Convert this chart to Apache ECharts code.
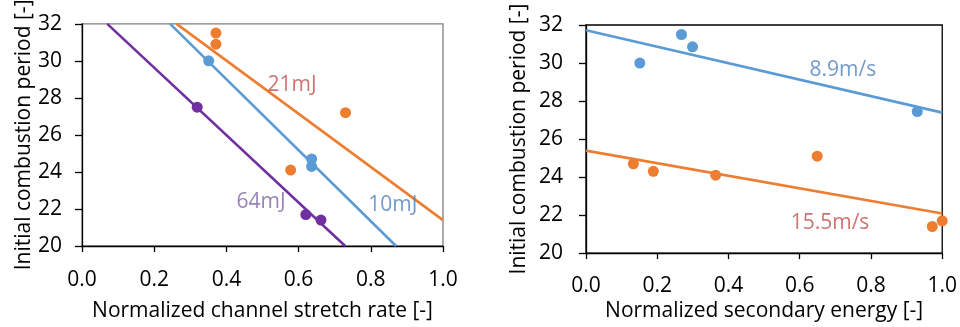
<!DOCTYPE html>
<html>
<head>
<meta charset="utf-8">
<script src="https://cdn.jsdelivr.net/npm/echarts@6/dist/echarts.min.js"></script>
<style>
  html, body { margin: 0; padding: 0; background: #fff; }
  #chart { width: 960px; height: 327px; }
</style>
</head>
<body>
<div id="chart"></div>
<script>
// Left panel: initial combustion period vs normalized channel stretch rate
const stretch21 = [[0.371, 31.5], [0.371, 30.9], [0.578, 24.1], [0.730, 27.2]];
const stretch10 = [[0.351, 30.0], [0.636, 24.7], [0.636, 24.3]];
const stretch64 = [[0.319, 27.5], [0.620, 21.7], [0.662, 21.4]];
const fit21 = [[0.262, 32], [1.0, 21.4]];
const fit10 = [[0.244, 32], [0.870, 20]];
const fit64 = [[0.070, 32], [0.729, 20]];

// Right panel: initial combustion period vs normalized secondary energy
const energy89 = [[0.151, 30.0], [0.268, 31.5], [0.299, 30.85], [0.930, 27.45]];
const energy155 = [[0.133, 24.7], [0.189, 24.3], [0.364, 24.1], [0.649, 25.1], [0.972, 21.4], [1.0, 21.7]];
const fit89 = [[0, 31.72], [1, 27.39]];
const fit155 = [[0, 25.39], [1, 22.08]];

// Series annotations: [text, x, y, colour]
const leftNotes = [['21mJ', 0.582, 28.7, '#C0504D'], ['64mJ', 0.496, 22.36, '#8064A2'], ['10mJ', 0.861, 22.2, '#4F81BD']];
const rightNotes = [['8.9m/s', 0.721, 29.63, '#4F81BD'], ['15.5m/s', 0.685, 21.56, '#C0504D']];

const xTicks = ['0.0', '0.2', '0.4', '0.6', '0.8', '1.0'];

const FONT = 'Open Sans';
const ORANGE = '#ED7D31', BLUE = '#5B9BD5', PURPLE = '#7030A0';

function xAxis(gridIndex, title, labelMargin, nameGap) {
  return {
    type: 'value', gridIndex, min: 0, max: 1, interval: 0.2,
    name: title, nameLocation: 'middle', nameGap,
    nameTextStyle: { fontFamily: FONT, fontSize: 21, color: '#000' },
    axisLine: { show: true, lineStyle: { color: '#000', width: 1.3 } },
    axisTick: { show: true, length: 6, lineStyle: { color: '#000', width: 1.3 } },
    axisLabel: { fontFamily: FONT, fontSize: 21, color: '#000', margin: labelMargin,
                 formatter: v => xTicks[Math.round(v / 0.2)] },
    splitLine: { show: false }
  };
}
function yAxis(gridIndex, labelMargin, nameGap) {
  return {
    type: 'value', gridIndex, min: 20, max: 32, interval: 2,
    name: 'Initial combustion period [-]', nameLocation: 'middle', nameGap,
    nameTextStyle: { fontFamily: FONT, fontSize: 21, color: '#000' },
    axisLine: { show: true, lineStyle: { color: '#000', width: 1.3 } },
    axisTick: { show: true, length: 7, lineStyle: { color: '#000', width: 1.3 } },
    axisLabel: { fontFamily: FONT, fontSize: 21, color: '#000', margin: labelMargin },
    splitLine: { show: false }
  };
}
function dots(data, color, xi) {
  return { type: 'scatter', xAxisIndex: xi, yAxisIndex: xi, data, symbolSize: 11,
           itemStyle: { color, opacity: 1 }, z: 3, silent: true };
}
function trend(data, color, xi) {
  return { type: 'line', xAxisIndex: xi, yAxisIndex: xi, data, showSymbol: false, symbol: 'none',
           lineStyle: { color, width: 2.6 }, z: 2, silent: true, clip: true };
}
function notes(list, xi) {
  return list.map(([text, x, y, color]) => ({
    type: 'scatter', xAxisIndex: xi, yAxisIndex: xi, symbolSize: 0, silent: true, z: 4,
    data: [[x, y]],
    label: { show: true, position: 'inside', formatter: text, color,
             fontFamily: FONT, fontSize: 21 }
  }));
}

const chart = echarts.init(document.getElementById('chart'), null, { renderer: 'canvas' });
chart.setOption({
  animation: false,
  backgroundColor: '#fff',
  grid: [
    { left: 82, right: 517, top: 22, bottom: 76, show: true, borderColor: '#7f7f7f', borderWidth: 1.3 },
    { left: 586, right: 14, top: 25, bottom: 71, show: true, borderColor: '#000', borderWidth: 1.3 }
  ],
  xAxis: [
    xAxis(0, 'Normalized channel stretch rate [-]', 24, 55),
    xAxis(1, 'Normalized secondary energy [-]', 22, 42)
  ],
  yAxis: [yAxis(0, 20, 47), yAxis(1, 23, 56)],
  series: [
    trend(fit21, ORANGE, 0), trend(fit10, BLUE, 0), trend(fit64, PURPLE, 0),
    dots(stretch21, ORANGE, 0), dots(stretch10, BLUE, 0), dots(stretch64, PURPLE, 0),
    ...notes(leftNotes, 0),
    trend(fit89, BLUE, 1), trend(fit155, ORANGE, 1),
    dots(energy89, BLUE, 1), dots(energy155, ORANGE, 1),
    ...notes(rightNotes, 1)
  ]
});
</script>
</body>
</html>
